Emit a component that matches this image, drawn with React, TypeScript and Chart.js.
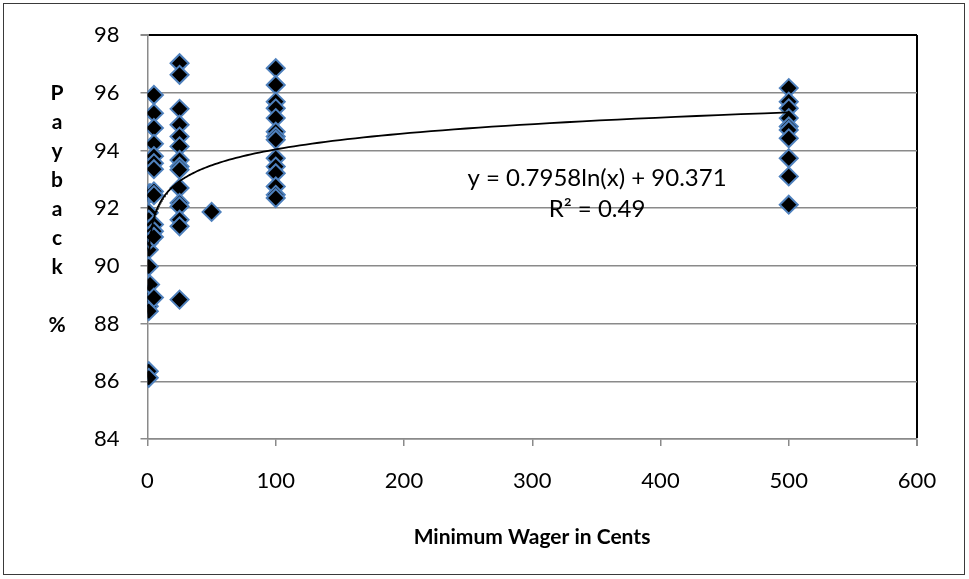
import { useEffect, useRef } from 'react';
import { Chart, registerables } from 'chart.js';

Chart.register(...registerables);

// Minimum wager (cents) of each denomination group
const WAGER_1 = 1;
const WAGER_2 = 2;
const WAGER_5 = 5;
const WAGER_25 = 25;
const WAGER_50 = 50;
const WAGER_100 = 100;
const WAGER_500 = 500;

// Payback % observed for each denomination
const PAYBACK_1 = [92.5, 91.84, 91.6, 91.25, 91.02, 90.8, 90.56, 89.98, 89.06, 88.83, 88.6, 88.43, 86.35, 86.12];
const PAYBACK_2 = [92.52, 90.91, 89.35];
const PAYBACK_5 = [95.92, 95.29, 94.78, 94.23, 93.8, 93.56, 93.35, 92.58, 92.45, 91.43, 91.2, 91.0, 88.9];
const PAYBACK_25 = [97.02, 96.62, 95.44, 94.89, 94.48, 94.14, 93.67, 93.44, 93.33, 92.7, 92.18, 92.06, 91.6, 91.37, 88.83];
const PAYBACK_50 = [91.87];
const PAYBACK_100 = [96.85, 96.27, 95.69, 95.46, 95.12, 94.65, 94.48, 94.37, 93.73, 93.44, 93.21, 92.75, 92.46, 92.35];
const PAYBACK_500 = [96.16, 95.69, 95.46, 95.12, 94.83, 94.71, 94.42, 93.73, 93.1, 92.12];

// Logarithmic trendline as printed on the chart
const TREND_SLOPE = 0.7958;
const TREND_INTERCEPT = 90.371;
const TREND_X_MIN = 1;
const TREND_X_MAX = 500;

const EQUATION_TEXT = 'y = 0.7958ln(x) + 90.371';
const R2_TEXT = 'R² = 0.49';
const X_TITLE = 'Minimum Wager in Cents';
const Y_TITLE_LINES = ['P', 'a', 'y', 'b', 'a', 'c', 'k', '', '%'];

const X_MIN = 0;
const X_MAX = 600;
const X_STEP = 100;
const Y_MIN = 84;
const Y_MAX = 98;
const Y_STEP = 2;

const FONT = 'Lato, "Open Sans", sans-serif';

function groupPoints(x: number, ys: number[]) {
  return ys.map((y) => ({ x, y }));
}

export default function App() {
  const canvasRef = useRef<HTMLCanvasElement | null>(null);

  useEffect(() => {
    document.body.style.margin = '0';
    const canvas = canvasRef.current;
    if (!canvas) return;

    const points = [
      ...groupPoints(WAGER_1, PAYBACK_1),
      ...groupPoints(WAGER_2, PAYBACK_2),
      ...groupPoints(WAGER_5, PAYBACK_5),
      ...groupPoints(WAGER_25, PAYBACK_25),
      ...groupPoints(WAGER_50, PAYBACK_50),
      ...groupPoints(WAGER_100, PAYBACK_100),
      ...groupPoints(WAGER_500, PAYBACK_500),
    ];

    const trend: { x: number; y: number }[] = [];
    const n = 160;
    for (let i = 0; i <= n; i++) {
      const x = TREND_X_MIN * Math.pow(TREND_X_MAX / TREND_X_MIN, i / n);
      trend.push({ x, y: TREND_SLOPE * Math.log(x) + TREND_INTERCEPT });
    }

    const textPlugin = {
      id: 'textPlugin',
      afterDraw(chart: any) {
        const ctx = chart.ctx as CanvasRenderingContext2D;
        ctx.save();
        ctx.strokeStyle = '#3a3a3a';
        ctx.lineWidth = 1;
        ctx.strokeRect(3.5, 3.5, 961, 571);

        ctx.fillStyle = '#000';
        ctx.textAlign = 'center';
        ctx.textBaseline = 'middle';
        ctx.font = `bold 21px ${FONT}`;
        Y_TITLE_LINES.forEach((ch, i) => {
          if (ch) ctx.fillText(ch, 57, 93 + i * 29);
        });
        ctx.fillText(X_TITLE, 532, 537);

        ctx.font = `24px ${FONT}`;
        ctx.fillText(EQUATION_TEXT, 597, 178);
        ctx.fillText(R2_TEXT, 597, 209);
        ctx.restore();
      },
    };

    const chart = new Chart(canvas, {
      type: 'scatter',
      data: {
        datasets: [
          {
            label: 'Trend',
            data: trend,
            showLine: true,
            borderColor: '#000',
            borderWidth: 1.8,
            pointRadius: 0,
            fill: false,
            order: 0,
          },
          {
            label: 'Payback',
            data: points,
            pointStyle: 'rectRot',
            pointRadius: 9,
            pointBackgroundColor: '#000',
            pointBorderColor: '#4F81BD',
            pointBorderWidth: 2,
            showLine: false,
            order: 1,
          },
        ],
      },
      options: {
        animation: false,
        responsive: false,
        devicePixelRatio: 1,
        layout: { padding: { top: 35, right: 52, left: 0, bottom: 0 } },
        plugins: { legend: { display: false }, tooltip: { enabled: false } },
        scales: {
          x: {
            type: 'linear',
            min: X_MIN,
            max: X_MAX,
            ticks: { stepSize: X_STEP, color: '#000', font: { family: FONT, size: 22 }, padding: 22, maxRotation: 0 },
            grid: {
              color: (c: any) => (c.tick && c.tick.value === X_MAX ? '#000' : 'rgba(0,0,0,0)'),
              tickColor: '#8a8a8a',
              tickLength: 7,
              lineWidth: (c: any) => (c.tick && c.tick.value === X_MAX ? 2 : 1.5),
            },
            border: { color: '#8a8a8a', width: 1.5 },
            afterFit: (s: any) => {
              s.height = 140;
            },
          },
          y: {
            type: 'linear',
            min: Y_MIN,
            max: Y_MAX,
            ticks: { stepSize: Y_STEP, color: '#000', font: { family: FONT, size: 22 }, padding: 21 },
            grid: {
              color: (c: any) => (c.tick && c.tick.value === Y_MAX ? '#000' : '#8a8a8a'),
              tickColor: '#8a8a8a',
              tickLength: 7,
              lineWidth: (c: any) => (c.tick && c.tick.value === Y_MAX ? 2 : 1.5),
            },
            border: { color: '#8a8a8a', width: 1.5 },
            afterFit: (s: any) => {
              s.width = 147.5;
            },
          },
        },
      },
      plugins: [textPlugin],
    });

    return () => chart.destroy();
  }, []);

  return (
    <div style={{ width: 969, height: 579, position: 'relative', background: '#fff' }}>
      <canvas ref={canvasRef} width={969} height={579} style={{ display: 'block' }} />
    </div>
  );
}
